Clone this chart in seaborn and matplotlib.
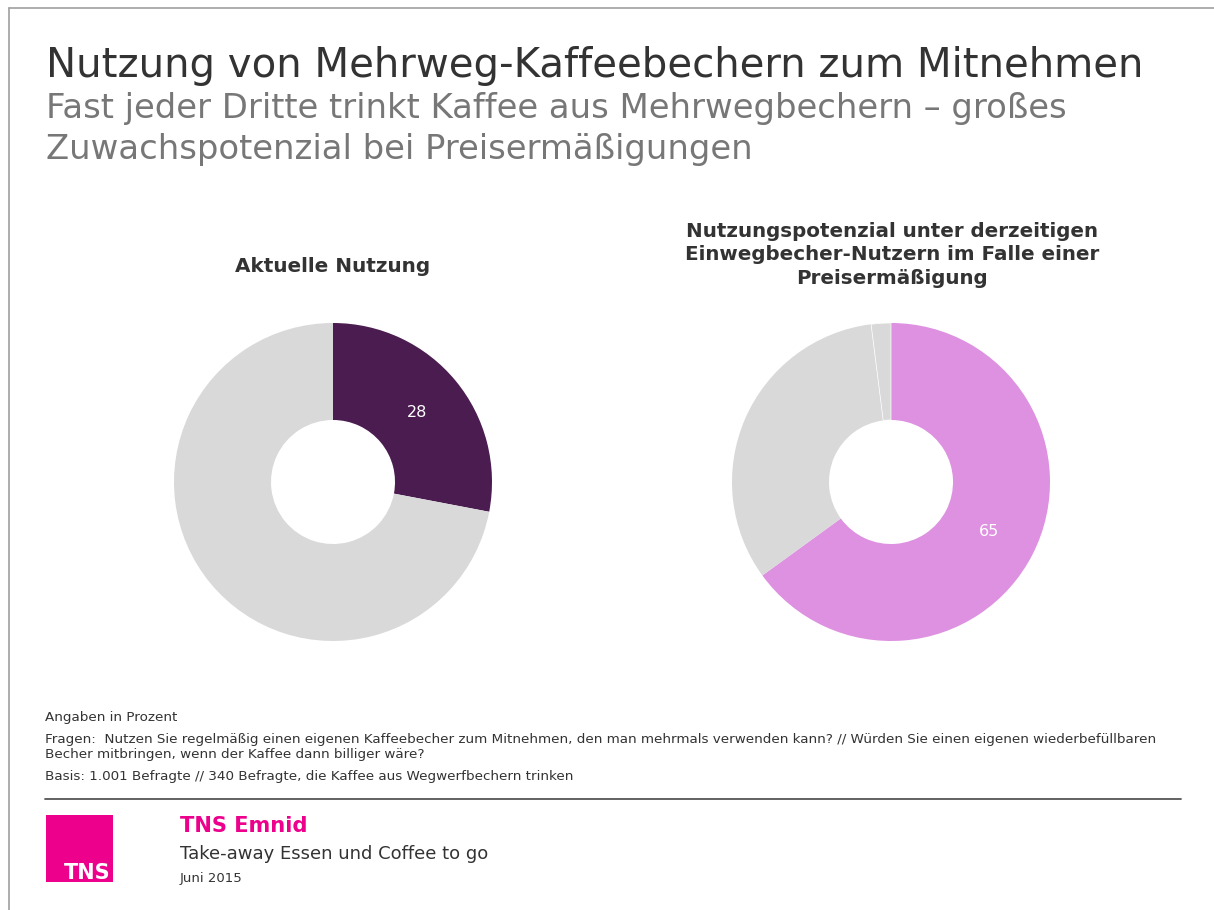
import matplotlib
matplotlib.use("Agg")
import matplotlib.pyplot as plt
from matplotlib.patches import Rectangle
from matplotlib.lines import Line2D
import seaborn as sns

sns.set_theme(style="white")
plt.rcParams["font.family"] = ["DejaVu Sans"]

# Survey shares in percent
current_labels = ["Mehrwegbecher", "Kein Mehrwegbecher"]
current_values = [28, 72]
current_colors = ["#4b1c50", "#d9d9d9"]

potential_labels = ["Ja", "Nein", "Weiß nicht"]
potential_values = [65, 33, 2]
potential_colors = ["#dd91e0", "#d9d9d9", "#d9d9d9"]

title = "Nutzung von Mehrweg-Kaffeebechern zum Mitnehmen"
subtitle = ["Fast jeder Dritte trinkt Kaffee aus Mehrwegbechern \u2013 gro\u00dfes",
            "Zuwachspotenzial bei Preiserm\u00e4\u00dfigungen"]
left_title = "Aktuelle Nutzung"
right_title = ("Nutzungspotenzial unter derzeitigen\n"
               "Einwegbecher-Nutzern im Falle einer\n"
               "Preiserm\u00e4\u00dfigung")
notes = [
    "Angaben in Prozent",
    "Fragen:  Nutzen Sie regelm\u00e4\u00dfig einen eigenen Kaffeebecher zum Mitnehmen, den man mehrmals verwenden kann? // W\u00fcrden Sie einen eigenen wiederbef\u00fcllbaren",
    "Becher mitbringen, wenn der Kaffee dann billiger w\u00e4re?",
    "Basis: 1.001 Befragte // 340 Befragte, die Kaffee aus Wegwerfbechern trinken",
]

W, H = 1214, 910
fig = plt.figure(figsize=(W / 100, H / 100), dpi=100)
fig.patch.set_facecolor("white")


def fx(x):
    return x / W


def fy(y):
    return 1 - y / H


# slide frame
fig.add_artist(Line2D([fx(9), fx(9)], [fy(8), 0], color="#a0a0a0", lw=1.2))
fig.add_artist(Line2D([fx(9), 1], [fy(8), fy(8)], color="#a0a0a0", lw=1.2))

# headings
fig.text(fx(46), fy(77), title, fontsize=29.0, color="#333333", va="baseline")
fig.text(fx(46), fy(118), subtitle[0], fontsize=24.4, color="#777777", va="baseline")
fig.text(fx(46), fy(159), subtitle[1], fontsize=24.4, color="#777777", va="baseline")


def donut(cx, cy, r, values, colors, label_idx):
    ax = fig.add_axes([fx(cx - r), fy(cy + r), 2 * r / W, 2 * r / H])
    shown = iter([str(v) if i in label_idx else "" for i, v in enumerate(values)])
    wedges, _, _ = ax.pie(
        values, colors=colors, startangle=90, counterclock=False,
        radius=1.0, autopct=lambda p: next(shown), pctdistance=0.69,
        wedgeprops=dict(width=0.61, linewidth=0),
        textprops=dict(color="white", fontsize=11.5),
    )
    # thin white divider between neighbouring wedges of the same colour
    for i in range(1, len(wedges)):
        if colors[i] == colors[i - 1]:
            wedges[i].set_edgecolor("white")
            wedges[i].set_linewidth(0.5)
    ax.set_xlim(-1, 1)
    ax.set_ylim(-1, 1)
    ax.set_aspect("equal")
    ax.axis("off")
    return ax


donut(333, 482, 159, current_values, current_colors, {0})
donut(891, 482, 159, potential_values, potential_colors, {0})

fig.text(fx(333), fy(266), left_title, fontsize=14.4, fontweight="bold",
         color="#333333", ha="center", va="center")
fig.text(fx(892), fy(255), right_title, fontsize=14.3, fontweight="bold",
         color="#333333", ha="center", va="center", linespacing=1.27)

# notes
note_y = [721, 743, 758, 780]
for y, t in zip(note_y, notes):
    fig.text(fx(45), fy(y), t, fontsize=9.7, color="#333333", va="baseline")

fig.add_artist(Line2D([fx(45), fx(1181)], [fy(799), fy(799)], color="#555555", lw=1.3))

# footer logo
fig.add_artist(Rectangle((fx(46), fy(882)), 67 / W, 67 / H, transform=fig.transFigure,
                         facecolor="#ec008c", edgecolor="none"))
fig.text(fx(111), fy(879), "TNS", fontsize=15, fontweight="bold", color="white",
         ha="right", va="baseline")

fig.text(fx(180), fy(832), "TNS Emnid", fontsize=15.1, fontweight="bold",
         color="#ec008c", va="baseline")
fig.text(fx(180), fy(859), "Take-away Essen und Coffee to go", fontsize=13,
         color="#333333", va="baseline")
fig.text(fx(180), fy(882), "Juni 2015", fontsize=9.5, color="#333333", va="baseline")

fig.savefig("out.png", dpi=100, facecolor="white")
